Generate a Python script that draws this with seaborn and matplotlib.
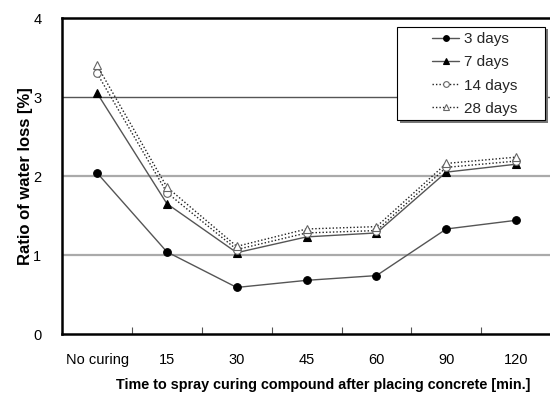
import numpy as np
import pandas as pd
import matplotlib
matplotlib.use("Agg")
import matplotlib.pyplot as plt
from matplotlib.patches import Rectangle
import seaborn as sns

categories = ["No curing", "15", "30", "45", "60", "90", "120"]
days_3 = [2.04, 1.04, 0.59, 0.68, 0.74, 1.33, 1.44]
days_7 = [3.05, 1.65, 1.03, 1.23, 1.28, 2.05, 2.15]
days_14 = [3.30, 1.79, 1.07, 1.28, 1.31, 2.11, 2.19]
days_28 = [3.40, 1.86, 1.11, 1.33, 1.36, 2.16, 2.24]
series_names = ["3 days", "7 days", "14 days", "28 days"]

sns.set_theme(style="white")
plt.rcParams["font.family"] = ["Liberation Sans", "DejaVu Sans"]

pos = np.arange(len(categories))
df = pd.DataFrame({
    "pos": np.tile(pos, 4),
    "ratio": days_3 + days_7 + days_14 + days_28,
    "series": np.repeat(series_names, len(categories)),
})

fig = plt.figure(figsize=(5.5, 3.93), dpi=100)
ax = fig.add_axes([0.113, 0.150, 0.889, 0.804])

styles = {
    "3 days":  dict(ls="-", marker="o", mfc="black", mec="black", color="#555555"),
    "7 days":  dict(ls="-", marker="^", mfc="black", mec="black", color="#555555"),
    "14 days": dict(ls=(0, (1, 1.5)), marker="o", mfc="white", mec="#666666", color="#222222"),
    "28 days": dict(ls=(0, (1, 1.5)), marker="^", mfc="white", mec="#666666", color="#222222"),
}

for name in series_names:
    st = styles[name]
    sub = df[df["series"] == name]
    sns.lineplot(data=sub, x="pos", y="ratio", ax=ax, label=name,
                 color=st["color"], linestyle=st["ls"], linewidth=1.0,
                 marker=st["marker"], markersize=5.5,
                 markerfacecolor=st["mfc"], markeredgecolor=st["mec"],
                 markeredgewidth=0.8, estimator=None, zorder=3)

ax.set_xlim(-0.5, len(categories) - 0.5)
ax.set_ylim(0, 4)
ax.set_yticks([0, 1, 2, 3, 4])
ax.set_xticks(pos)
ax.set_xticklabels(categories)
ax.set_xticks(pos[:-1] + 0.5, minor=True)
ax.tick_params(axis="x", which="major", length=0, pad=14, labelsize=10.5, colors="black")
ax.tick_params(axis="x", which="minor", direction="in", length=5, width=0.8, color="#555555", bottom=True)
ax.tick_params(axis="y", length=0, pad=15, labelsize=10.5, colors="black")

for y in [1, 2, 3]:
    ax.axhline(y, color="#aaaaaa" if y < 3 else "#555555",
               linewidth=1.6 if y < 3 else 1.0, zorder=1)

for side in ["left", "bottom", "top"]:
    ax.spines[side].set_visible(True)
    ax.spines[side].set_color("black")
    ax.spines[side].set_linewidth(1.8)
ax.spines["right"].set_visible(False)

ax.set_xlabel("Time to spray curing compound after placing concrete [min.]",
              fontsize=10.4, fontweight="bold", color="black")
ax.xaxis.set_label_coords(0.534, -0.138)
ax.set_ylabel("Ratio of water loss [%]", fontsize=12, fontweight="bold", color="black")
ax.yaxis.set_label_coords(-0.059, 0.5)

# legend box with a drop shadow, drawn behind a frameless legend
box_x0, box_x1 = 0.685, 0.988
box_y0, box_y1 = 0.677, 0.972
shadow = Rectangle((box_x0 + 0.005, box_y0 - 0.008), box_x1 - box_x0, box_y1 - box_y0,
                   transform=ax.transAxes, facecolor="#777777", edgecolor="none", zorder=5)
frame = Rectangle((box_x0, box_y0), box_x1 - box_x0, box_y1 - box_y0,
                  transform=ax.transAxes, facecolor="white", edgecolor="black",
                  linewidth=0.8, zorder=6)
ax.add_patch(shadow)
ax.add_patch(frame)

leg = ax.legend(loc="upper left", bbox_to_anchor=(0.757, 0.955), frameon=False,
                fontsize=11, handlelength=1.75, handletextpad=0.35,
                labelspacing=0.6, borderpad=0, borderaxespad=0, markerscale=0.75)
leg.set_zorder(7)

fig.savefig("out.png", dpi=100)
